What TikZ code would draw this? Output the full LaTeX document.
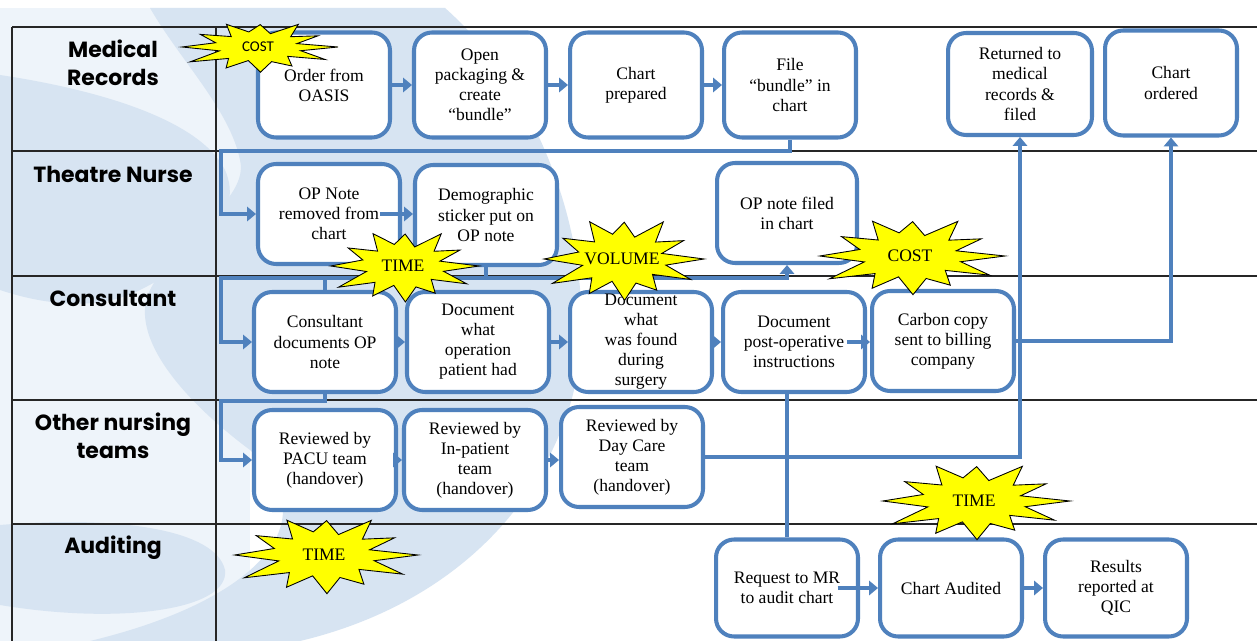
\documentclass[tikz,border=0pt]{standalone}
\usepackage{fontspec}
\setmainfont{Liberation Serif}
\newfontfamily\lanefont{Poppins}
\newfontfamily\calfont{Carlito}
\usetikzlibrary{arrows.meta}
\definecolor{boxblue}{HTML}{4F81BD}
\definecolor{swoosh}{HTML}{D7E4F2}
\definecolor{paleswoosh}{HTML}{EEF4FA}
\definecolor{burstyellow}{HTML}{FFFF00}

% spiky callout: name, centre, x radius, y radius, text
\newcommand{\burst}[5]{%
	\begin{scope}[shift={(#2)}, xscale=#3, yscale=#4]
		\draw[burstfill] (0:1) \foreach \a/\r in {14/.55,28/.95,42/.5,58/.8,72/.55,88/.9,104/.5,118/.85,132/.55,148/1,164/.5,180/.95,196/.55,212/.85,228/.5,244/.9,258/.55,272/.8,288/.5,302/.95,318/.55,332/.85,346/.5} {-- (\a:\r)} -- cycle;
	\end{scope}
	\node[bursttext] (#1) at (#2) {#5};}

\begin{document}
\begin{tikzpicture}[x=0.02cm, y=-0.02cm,
		stepbox/.style={draw=boxblue, line width=2.3pt, rounded corners=0.36cm, fill=white,
			align=center, font=\fontsize{10}{11.4}\selectfont, inner sep=1pt,
			minimum width=2.84cm, minimum height=2cm},
		toprow/.style={minimum width=2.64cm, minimum height=2.1cm},
		flow/.style={draw=boxblue, line width=2.3pt, -{Triangle[length=5pt,width=8pt]}},
		link/.style={draw=boxblue, line width=2.3pt},
		lane/.style={font=\lanefont\bfseries\fontsize{12.5}{15.8}\selectfont, align=center},
		grid/.style={line width=0.9pt, black!85},
		burstfill/.style={fill=burstyellow, draw=black, line width=0.5pt, line join=miter},
		bursttext/.style={font=\fontsize{10}{12}\selectfont, inner sep=0pt}]
	\useasboundingbox[fill=white] (0,0) rectangle (1257,641);
	%
	% watermark
	\fill[paleswoosh] (0,8) rectangle (250,641);
	\fill[swoosh] (150,8) -- (445,8) .. controls (560,110) and (610,300) .. (565,420)
		.. controls (525,530) and (430,610) .. (300,641) -- (90,641)
		.. controls (260,600) and (330,520) .. (250,450)
		.. controls (170,390) and (130,330) .. (150,290)
		.. controls (175,240) and (250,200) .. (240,160)
		.. controls (230,110) and (180,60) .. (150,8) -- cycle;
	\fill[swoosh] (0,75) .. controls (100,90) and (200,120) .. (225,170)
		.. controls (245,215) and (200,260) .. (140,290)
		.. controls (90,315) and (30,300) .. (0,290) -- cycle;
	\fill[swoosh] (0,525) .. controls (120,515) and (216,530) .. (225,570)
		.. controls (230,610) and (120,625) .. (0,605) -- cycle;
	%
	% swimlane grid
	\foreach \y in {27,151,276,400,524}
		\draw[grid] (12,\y) -- (1257,\y);
	\foreach \x in {12,216}
		\draw[grid] (\x,27) -- (\x,641);
	%
	\node[lane] (mr) at (113,63) {Medical\\Records};
	\node[lane] (nurse) at (113,174) {Theatre Nurse};
	\node[lane] (cons) at (113,298) {Consultant};
	\node[lane] (other) at (113,436) {Other nursing\\teams};
	\node[lane] (audit) at (113,548) {Auditing};
	%
	% steps
	\node[stepbox, toprow] (order) at (324,85) {Order from\\OASIS};
	\node[stepbox, toprow] (bundle) at (480,85) {Open\\packaging \&\\create\\“bundle”};
	\node[stepbox, toprow] (prep) at (636,85) {Chart\\prepared};
	\node[stepbox, toprow] (file) at (790,85) {File\\“bundle” in\\chart};
	\node[stepbox, toprow, minimum width=2.88cm, minimum height=2.04cm] (ret) at (1020,84) {Returned to\\medical\\records \&\\filed};
	\node[stepbox, toprow] (ordered) at (1171,83) {Chart\\ordered};
	%
	\node[stepbox] (remove) at (329,214) {OP Note\\removed from\\chart};
	\node[stepbox] (sticker) at (486,215) {Demographic\\sticker put on\\OP note};
	\node[stepbox, minimum width=2.8cm] (filed) at (787,213) {OP note filed\\in chart};
	%
	\node[stepbox] (consult) at (325,342) {Consultant\\documents OP\\note};
	\node[stepbox] (operation) at (478,342) {Document\\what\\operation\\patient had};
	\node[stepbox] (found) at (641,342) {Document\\what\\was found\\during\\surgery};
	\node[stepbox] (postop) at (794,342) {Document\\post-operative\\instructions};
	\node[stepbox] (billing) at (943,341) {Carbon copy\\sent to billing\\company};
	%
	\node[stepbox] (pacu) at (325,460) {Reviewed by\\PACU team\\(handover)};
	\node[stepbox] (inpatient) at (475,460) {Reviewed by\\In-patient\\team\\(handover)};
	\node[stepbox] (daycare) at (632,457) {Reviewed by\\Day Care\\team\\(handover)};
	%
	\node[stepbox, minimum height=1.94cm] (request) at (787,588) {Request to MR\\to audit chart};
	\node[stepbox, minimum height=1.94cm] (audited) at (951,588) {Chart Audited};
	\node[stepbox, minimum height=1.94cm] (results) at (1116,588) {Results\\reported at\\QIC};
	%
	% flow
	\coordinate (gutter1) at (221,151);
	\coordinate (gutter2) at (221,278);
	\coordinate (gutter3) at (221,401);
	\draw[flow] (order.east) -- (order.east -| bundle.west);
	\draw[flow] (bundle.east) -- (prep.west);
	\draw[flow] (prep.east) -- (file.west);
	\draw[flow] (file.south) |- (gutter1) |- (remove.west);
	\draw[flow] ([xshift=-0.45cm]remove.east) -- (remove.east -| sticker.west);
	\draw[flow] (sticker.south) |- (gutter2) |- (consult.west);
	\draw[flow] (sticker.south) |- (filed.south |- gutter2) -- (filed.south);
	\draw[link] (consult.north) -- (consult.north |- gutter2);
	\draw[flow] (consult.east) -- (operation.west);
	\draw[flow] (operation.east) -- (found.west);
	\draw[flow] (found.east) -- (postop.west);
	\draw[flow] ([xshift=-0.4cm]postop.east) -- (postop.east -| billing.west);
	\draw[flow] (billing.east) -| (ordered.south);
	\draw[flow] (consult.south) |- (gutter3) |- (pacu.west);
	\draw[flow] (pacu.east) -- (inpatient.west);
	\draw[flow] (inpatient.east) -- (inpatient.east -| daycare.west);
	\draw[flow] (daycare.east) -| (ret.south);
	\draw[link] (request.north) -- (request.north |- postop.south);
	\draw[flow] ([xshift=-0.45cm]request.east) -- (audited.west);
	\draw[flow] (audited.east) -- (results.west);
	%
	% cost, time and volume call-outs
	\burst{cost1}{258,47}{80}{28}{\calfont\fontsize{8.5}{10}\selectfont COST}
	\burst{time1}{403,266}{76}{40}{TIME}
	\burst{volume}{622,259}{82}{46}{VOLUME}
	\burst{cost2}{910,256}{95}{43}{COST}
	\burst{time2}{324,555}{94}{43}{TIME}
	\burst{time3}{974,501}{96}{43}{TIME}
\end{tikzpicture}
\end{document}
